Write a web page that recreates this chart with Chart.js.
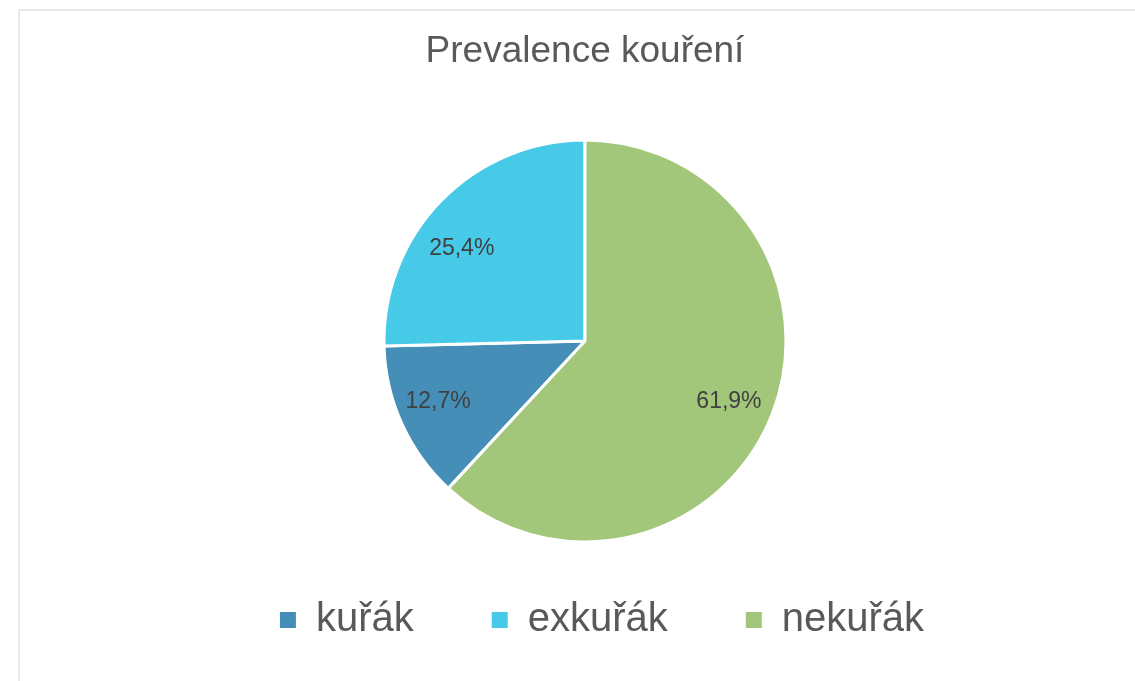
<!DOCTYPE html>
<html>
<head>
<meta charset="utf-8">
<script src="https://cdn.jsdelivr.net/npm/chart.js@4/dist/chart.umd.min.js"></script>
<style>
  html, body { margin: 0; padding: 0; background: #fff; overflow: hidden; }
  #frame {
    position: absolute; left: 18px; top: 9px;
    width: 1140px; height: 700px;
    border: 2px solid #e8e8e8;
  }
  #wrap { position: absolute; left: 0; top: 0; width: 1130px; height: 670px; }
</style>
</head>
<body>
<div id="frame">
  <div id="wrap"><canvas id="myChart"></canvas></div>
</div>
<script>
const categories = ['kuřák', 'exkuřák', 'nekuřák'];
const shares = [12.7, 25.4, 61.9];
const colors = ['#448EB8', '#46CAE8', '#A3C77A'];

// small pixel nudges so labels sit where Excel put them
const labelNudge = [[-4, -4], [-11, 17], [-2, 3]];

// percent labels inside slices, Excel style
const sliceLabels = {
  id: 'sliceLabels',
  afterDatasetsDraw(chart) {
    const ctx = chart.ctx;
    const meta = chart.getDatasetMeta(0);
    ctx.save();
    ctx.font = '23px "Liberation Sans", Arial, sans-serif';
    ctx.fillStyle = '#404040';
    ctx.textAlign = 'center';
    ctx.textBaseline = 'middle';
    meta.data.forEach((arc, i) => {
      const p = arc.getProps(['x', 'y', 'startAngle', 'endAngle', 'outerRadius'], true);
      const mid = (p.startAngle + p.endAngle) / 2;
      const r = p.outerRadius * 0.78;
      const text = shares[i].toFixed(1).replace('.', ',') + '%';
      ctx.fillText(text, p.x + Math.cos(mid) * r + labelNudge[i][0], p.y + Math.sin(mid) * r + labelNudge[i][1]);
    });
    ctx.restore();
  }
};

// legend sits a little right of centre in the original
const legendShift = {
  id: 'legendShift',
  afterLayout(chart) {
    chart.legend.left += 17;
    chart.legend.right += 17;
  }
};

const ctx = document.getElementById('myChart').getContext('2d');

new Chart(ctx, {
  type: 'pie',
  data: {
    labels: categories,
    datasets: [{
      data: shares,
      backgroundColor: colors,
      borderColor: '#ffffff',
      borderWidth: 3
    }]
  },
  options: {
    responsive: true,
    maintainAspectRatio: false,
    animation: false,
    rotation: 222.84,
    radius: 201,
    layout: {
      padding: { top: 0, bottom: 31, left: 0, right: 0 }
    },
    plugins: {
      title: {
        display: true,
        text: 'Prevalence kouření',
        color: '#595959',
        font: { family: '"Liberation Sans", Arial, sans-serif', size: 37, weight: 'normal' },
        padding: { top: 18.8, bottom: 85.8 }
      },
      legend: {
        position: 'bottom',
        labels: {
          color: '#595959',
          font: { family: '"Liberation Sans", Arial, sans-serif', size: 40 },
          boxWidth: 16,
          boxHeight: 16,
          padding: 78,
          generateLabels(chart) {
            const items = Chart.controllers.pie.overrides.plugins.legend.labels.generateLabels(chart);
            return items.map(it => Object.assign(it, { lineWidth: 0, strokeStyle: 'transparent' }));
          }
        }
      },
      tooltip: { enabled: false }
    }
  },
  plugins: [sliceLabels, legendShift]
});
</script>
</body>
</html>
